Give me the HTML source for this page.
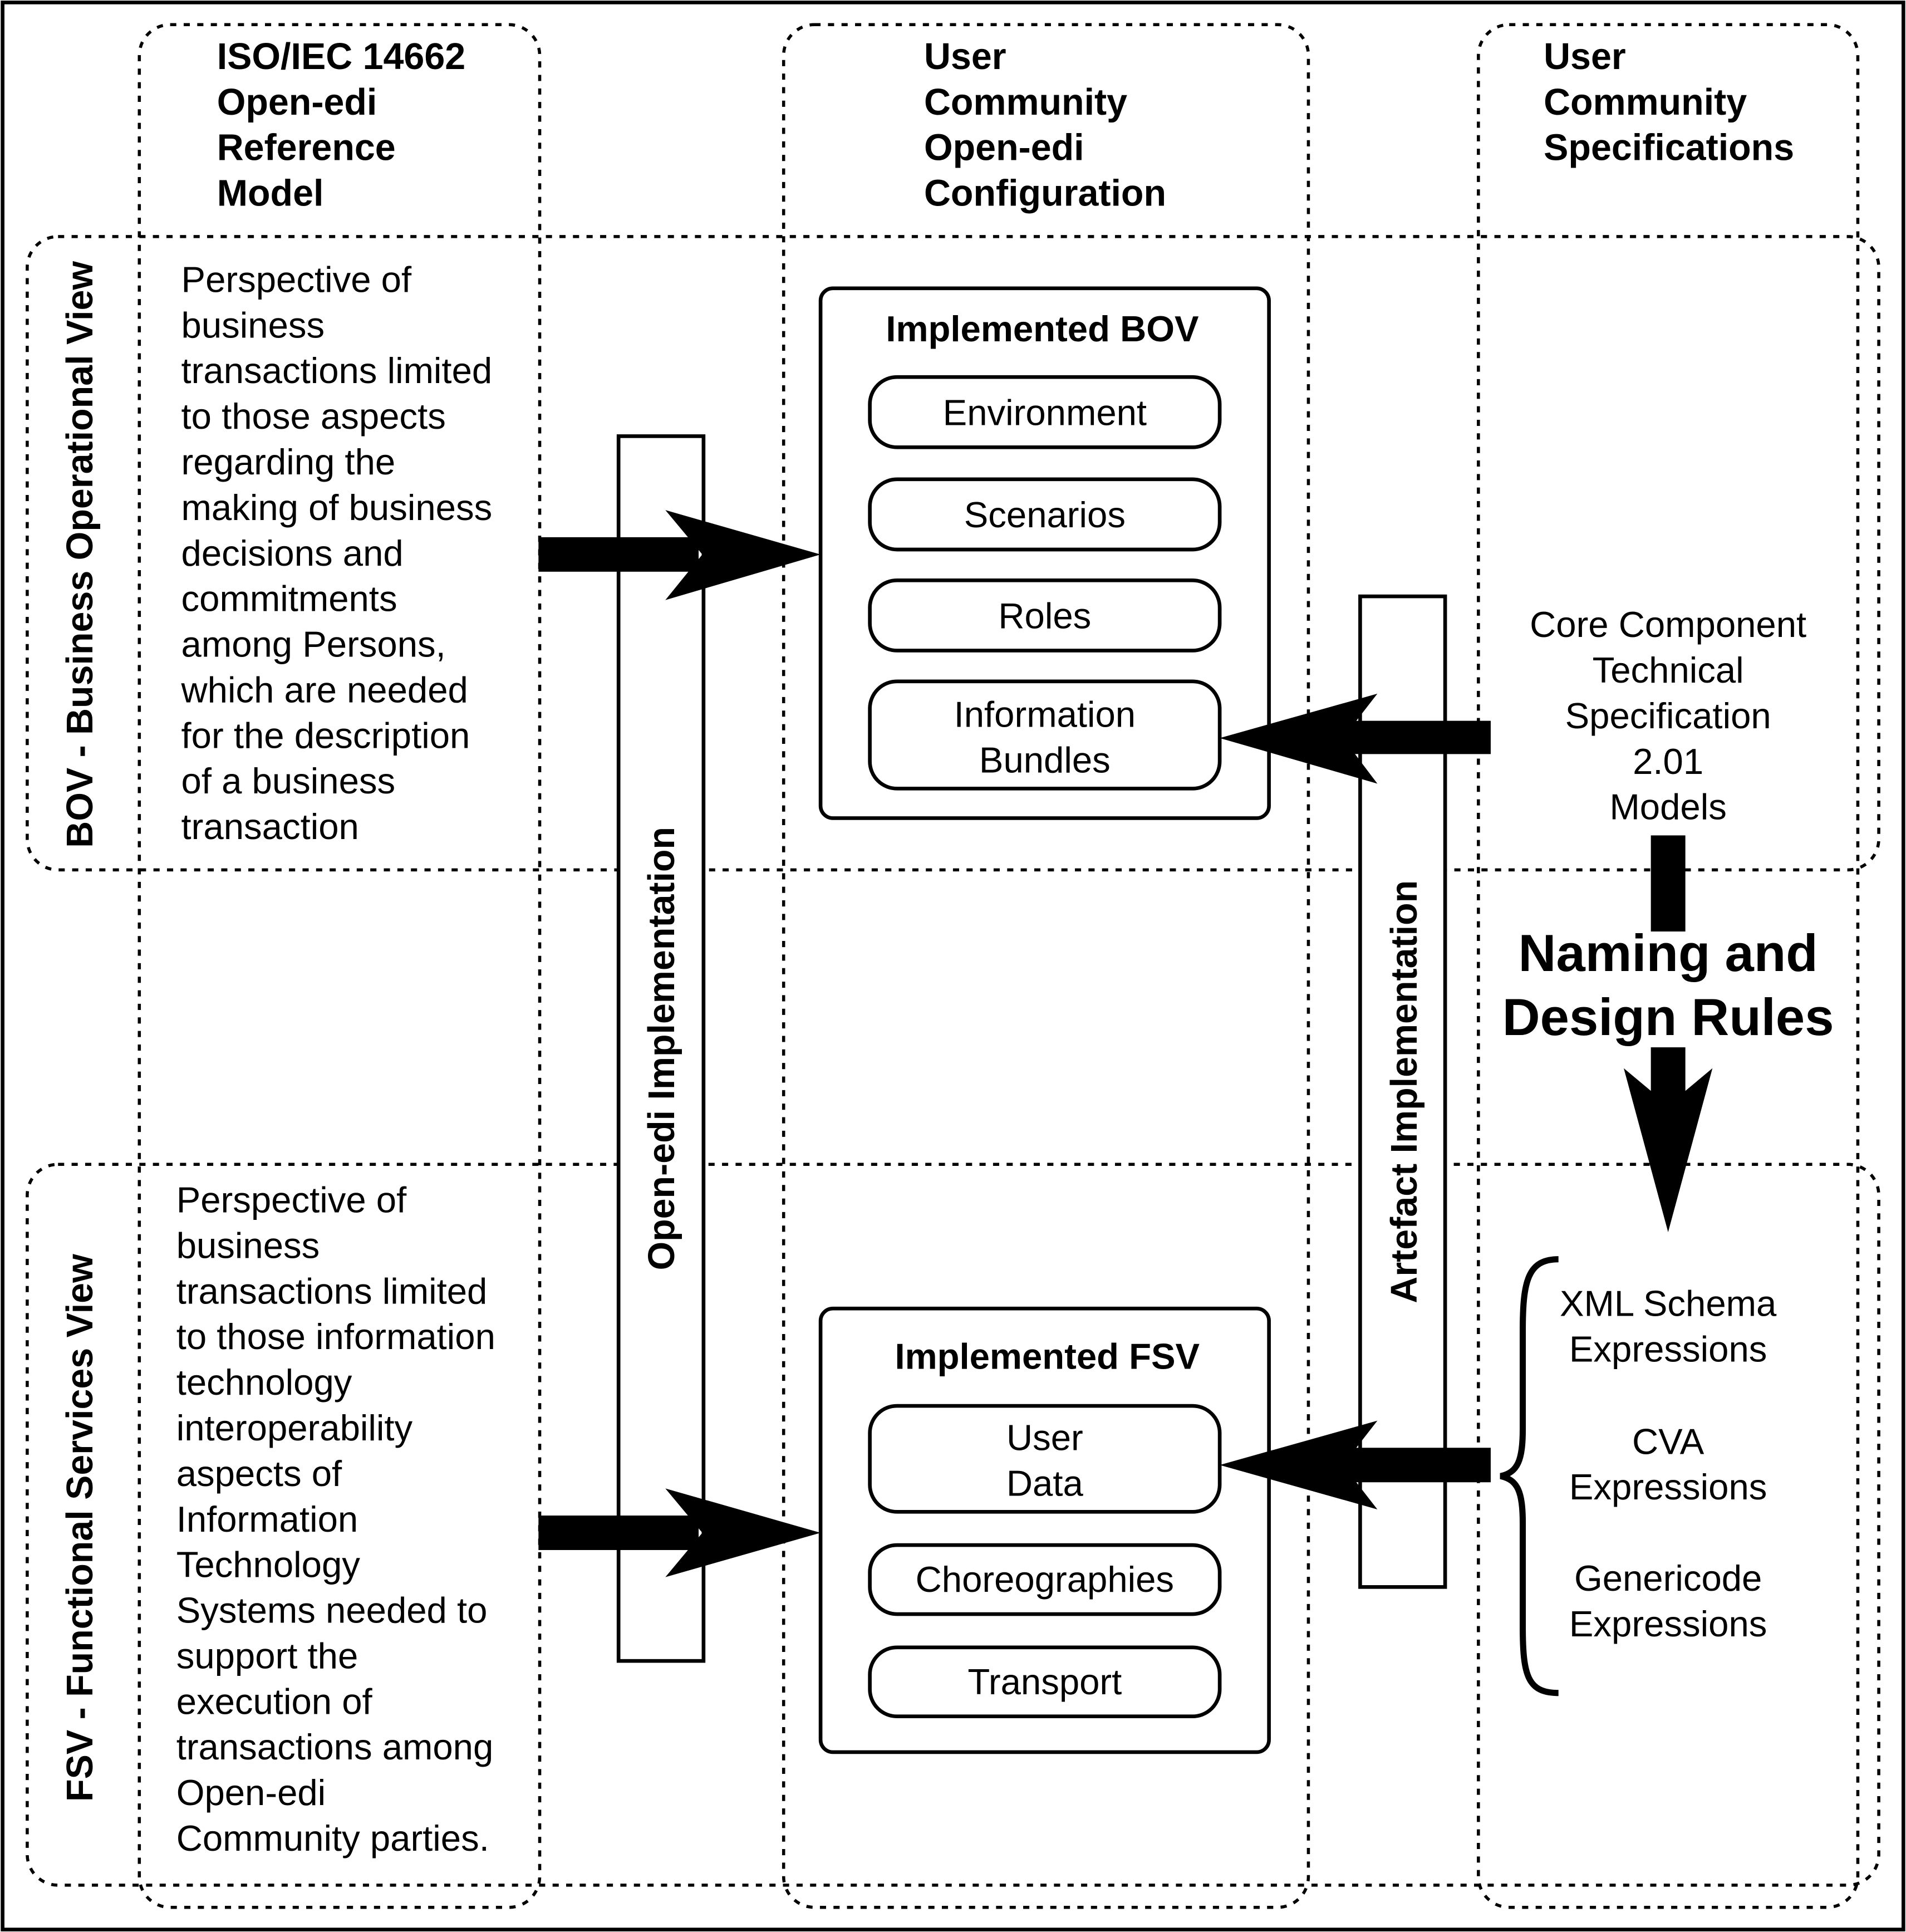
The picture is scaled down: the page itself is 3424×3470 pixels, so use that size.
<!DOCTYPE html>
<html><head><meta charset="utf-8"><style>
html,body{margin:0;padding:0;background:#fff;}
svg{display:block;}
text{font-family:"Liberation Sans",Arial,sans-serif;fill:#000;}
.b{font-weight:bold;}
</style></head><body>
<svg width="3424" height="3470" viewBox="0 0 1547 1568" xmlns="http://www.w3.org/2000/svg">
<rect x="0" y="0" width="1547" height="1568" fill="#fff"/>
<rect x="2" y="2" width="1543" height="1564" fill="none" stroke="#000" stroke-width="3"/>
<g fill="none" stroke="#000" stroke-width="2.5" stroke-dasharray="5 6">
<rect x="113" y="20" width="325" height="1528" rx="25"/>
<rect x="636" y="20" width="426" height="1528" rx="25"/>
<rect x="1200" y="20" width="308" height="1528" rx="25"/>
<rect x="22" y="192" width="1503" height="514" rx="25"/>
<rect x="22" y="945" width="1503" height="585" rx="25"/>
</g>
<g font-size="30">
<text class="b" x="176" y="56">ISO/IEC 14662</text>
<text class="b" x="176" y="93">Open-edi</text>
<text class="b" x="176" y="130">Reference</text>
<text class="b" x="176" y="167">Model</text>
<text class="b" x="750" y="56">User</text>
<text class="b" x="750" y="93">Community</text>
<text class="b" x="750" y="130">Open-edi</text>
<text class="b" x="750" y="167">Configuration</text>
<text class="b" x="1253" y="56">User</text>
<text class="b" x="1253" y="93">Community</text>
<text class="b" x="1253" y="130">Specifications</text>
</g>
<text class="b" font-size="30" text-anchor="middle" transform="translate(75,450) rotate(-90)">BOV - Business Operational View</text>
<text class="b" font-size="30" text-anchor="middle" transform="translate(75,1240) rotate(-90)">FSV - Functional Services View</text>
<g font-size="29.5">
<text x="147" y="237">Perspective of</text>
<text x="147" y="274">business</text>
<text x="147" y="311">transactions limited</text>
<text x="147" y="348">to those aspects</text>
<text x="147" y="385">regarding the</text>
<text x="147" y="422">making of business</text>
<text x="147" y="459">decisions and</text>
<text x="147" y="496">commitments</text>
<text x="147" y="533">among Persons,</text>
<text x="147" y="570">which are needed</text>
<text x="147" y="607">for the description</text>
<text x="147" y="644">of a business</text>
<text x="147" y="681">transaction</text>
<text x="143" y="984">Perspective of</text>
<text x="143" y="1021">business</text>
<text x="143" y="1058">transactions limited</text>
<text x="143" y="1095">to those information</text>
<text x="143" y="1132">technology</text>
<text x="143" y="1169">interoperability</text>
<text x="143" y="1206">aspects of</text>
<text x="143" y="1243">Information</text>
<text x="143" y="1280">Technology</text>
<text x="143" y="1317">Systems needed to</text>
<text x="143" y="1354">support the</text>
<text x="143" y="1391">execution of</text>
<text x="143" y="1428">transactions among</text>
<text x="143" y="1465">Open-edi</text>
<text x="143" y="1502">Community parties.</text>
</g>
<g fill="#fff" stroke="#000" stroke-width="3">
<rect x="502" y="354" width="69" height="994"/>
<rect x="1104" y="484" width="69" height="804"/>
</g>
<text class="b" font-size="30" text-anchor="middle" transform="translate(547,851) rotate(-90)">Open-edi Implementation</text>
<text class="b" font-size="30" text-anchor="middle" transform="translate(1150,886) rotate(-90)">Artefact Implementation</text>
<g fill="#fff" stroke="#000" stroke-width="3">
<rect x="666" y="234" width="364" height="430" rx="10"/>
<rect x="666" y="1062" width="364" height="360" rx="10"/>
<rect x="706" y="306" width="284" height="57" rx="22"/>
<rect x="706" y="389" width="284" height="57" rx="22"/>
<rect x="706" y="471" width="284" height="57" rx="22"/>
<rect x="706" y="553" width="284" height="87" rx="22"/>
<rect x="706" y="1141" width="284" height="86" rx="22"/>
<rect x="706" y="1254" width="284" height="56" rx="22"/>
<rect x="706" y="1337" width="284" height="56" rx="22"/>
</g>
<g font-size="29.5" text-anchor="middle">
<text class="b" x="846" y="277">Implemented BOV</text>
<text x="848" y="345">Environment</text>
<text x="848" y="428">Scenarios</text>
<text x="848" y="510">Roles</text>
<text x="848" y="590">Information</text>
<text x="848" y="627">Bundles</text>
<text class="b" x="850" y="1111">Implemented FSV</text>
<text x="848" y="1177">User</text>
<text x="848" y="1214">Data</text>
<text x="848" y="1292">Choreographies</text>
<text x="848" y="1375">Transport</text>
<text x="1354" y="517">Core Component</text>
<text x="1354" y="554">Technical</text>
<text x="1354" y="591">Specification</text>
<text x="1354" y="628">2.01</text>
<text x="1354" y="665">Models</text>
<text x="1354" y="1068">XML Schema</text>
<text x="1354" y="1105">Expressions</text>
<text x="1354" y="1180">CVA</text>
<text x="1354" y="1217">Expressions</text>
<text x="1354" y="1291">Genericode</text>
<text x="1354" y="1328">Expressions</text>
</g>
<g font-size="42.5" text-anchor="middle">
<text class="b" x="1354" y="788">Naming and</text>
<text class="b" x="1354" y="840">Design Rules</text>
</g>
<g fill="#000">
<rect x="437" y="436" width="130" height="28"/>
<polygon points="540,414 666,450 540,487 570,450"/>
<rect x="437" y="1230" width="130" height="28"/>
<polygon points="540,1208 666,1244 540,1280 570,1244"/>
<rect x="1090" y="585" width="120" height="27"/>
<polygon points="1118,563 990,599 1118,636 1090,599"/>
<rect x="1090" y="1175" width="120" height="28"/>
<polygon points="1118,1153 990,1189 1118,1225 1090,1189"/>
<rect x="1340" y="678" width="28" height="78"/>
<rect x="1340" y="850" width="28" height="50"/>
<polygon points="1318,867 1354,1000 1390,867 1354,897"/>
</g>
<path d="M1265,1022 C1240,1022 1236,1040 1236,1080 L1236,1160 C1236,1185 1232,1195 1218,1198 C1232,1201 1236,1211 1236,1236 L1236,1320 C1236,1360 1240,1374 1265,1374" fill="none" stroke="#000" stroke-width="5"/>
</svg>
</body></html>
